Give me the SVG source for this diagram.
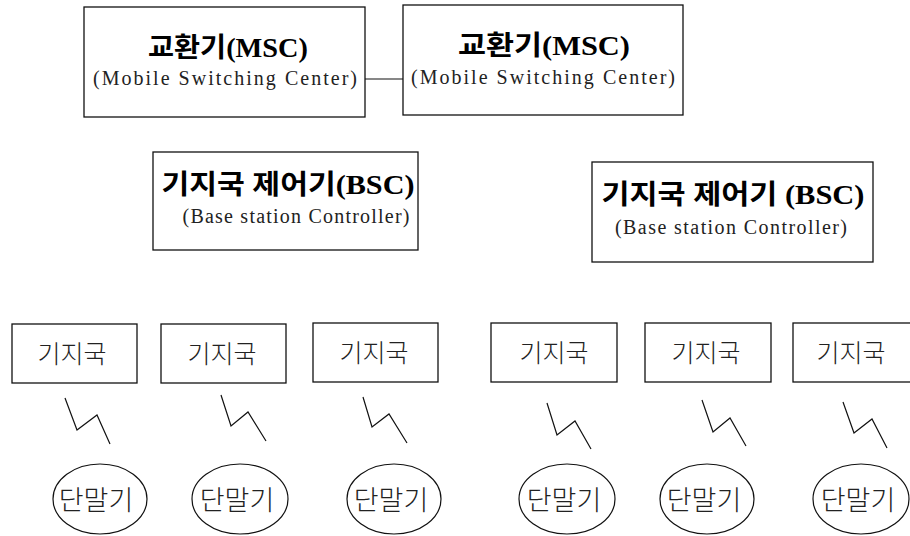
<svg xmlns="http://www.w3.org/2000/svg" width="910" height="536" viewBox="0 0 910 536">
<style>
.box{fill:#fff;stroke:#111;stroke-width:1.3}
.ell{fill:#fff;stroke:#111;stroke-width:1.2}
.ln{fill:none;stroke:#111;stroke-width:1.2}
.t{font-family:"Liberation Serif","Noto Sans CJK KR",serif;font-weight:bold;font-size:27px;text-anchor:middle;fill:#000}
.s{font-family:"Liberation Serif","Noto Sans CJK KR",serif;font-size:20px;text-anchor:middle;fill:#222}
.k{font-family:"Noto Sans CJK KR","Noto Sans",sans-serif;font-weight:300;font-size:25px;text-anchor:middle;fill:#222}
.m{font-family:"Noto Sans CJK KR","Noto Sans",sans-serif;font-weight:300;font-size:27px;text-anchor:middle;fill:#222}
</style>
<rect width="910" height="536" fill="#fff"/>
<g id="connectors">
<line class="ln" x1="365" y1="79" x2="403" y2="79"/>
<polyline class="ln" points="65,398 77,430 97,415 110,444"/>
<polyline class="ln" points="221,395 231,426 248,412 266,441"/>
<polyline class="ln" points="363,397 372,427 389,414 407,443"/>
<polyline class="ln" points="547,403 557,435 575,421 591,449"/>
<polyline class="ln" points="702,400 713,432 730,418 746,446"/>
<polyline class="ln" points="843,402 854,433 872,419 887,448"/>
</g>
<g id="msc1">
<rect class="box" x="84" y="7" width="281" height="110"/>
<text class="t" x="228" y="57" textLength="160" lengthAdjust="spacingAndGlyphs">교환기(MSC)</text>
<text class="s" x="225" y="85" textLength="264" lengthAdjust="spacing">(Mobile Switching Center)</text>
</g>
<g id="msc2">
<rect class="box" x="403" y="5" width="280" height="110"/>
<text class="t" x="544" y="55" textLength="172" lengthAdjust="spacingAndGlyphs">교환기(MSC)</text>
<text class="s" x="543" y="84" textLength="264" lengthAdjust="spacing">(Mobile Switching Center)</text>
</g>
<g id="bsc1">
<rect class="box" x="153" y="152" width="265" height="98"/>
<text class="t" x="288" y="194" textLength="253" lengthAdjust="spacingAndGlyphs">기지국 제어기(BSC)</text>
<text class="s" x="296" y="223" textLength="227" lengthAdjust="spacing">(Base station Controller)</text>
</g>
<g id="bsc2">
<rect class="box" x="592" y="162" width="281" height="100"/>
<text class="t" x="733" y="204" textLength="263" lengthAdjust="spacingAndGlyphs">기지국 제어기 (BSC)</text>
<text class="s" x="731" y="234" textLength="232" lengthAdjust="spacing">(Base station Controller)</text>
</g>
<g id="bs1"><rect class="box" x="12" y="324" width="125" height="59"/><text class="k" x="72" y="363">기지국</text></g>
<g id="bs2"><rect class="box" x="161" y="324" width="125" height="59"/><text class="k" x="222" y="363">기지국</text></g>
<g id="bs3"><rect class="box" x="313" y="323" width="125" height="59"/><text class="k" x="374" y="362">기지국</text></g>
<g id="bs4"><rect class="box" x="491" y="323" width="126" height="59"/><text class="k" x="554" y="362">기지국</text></g>
<g id="bs5"><rect class="box" x="645" y="323" width="126" height="59"/><text class="k" x="706" y="362">기지국</text></g>
<g id="bs6"><rect class="box" x="793" y="323" width="126" height="59"/><text class="k" x="851" y="362">기지국</text></g>
<g id="ms1"><ellipse class="ell" cx="100" cy="499" rx="47" ry="35"/><text class="m" x="96" y="510">단말기</text></g>
<g id="ms2"><ellipse class="ell" cx="240" cy="499" rx="48" ry="35"/><text class="m" x="237" y="510">단말기</text></g>
<g id="ms3"><ellipse class="ell" cx="394" cy="499" rx="47" ry="35"/><text class="m" x="391" y="510">단말기</text></g>
<g id="ms4"><ellipse class="ell" cx="567" cy="499" rx="48" ry="35"/><text class="m" x="564" y="510">단말기</text></g>
<g id="ms5"><ellipse class="ell" cx="707" cy="499" rx="47" ry="35"/><text class="m" x="704" y="510">단말기</text></g>
<g id="ms6"><ellipse class="ell" cx="861" cy="499" rx="48" ry="35"/><text class="m" x="858" y="510">단말기</text></g>
</svg>
